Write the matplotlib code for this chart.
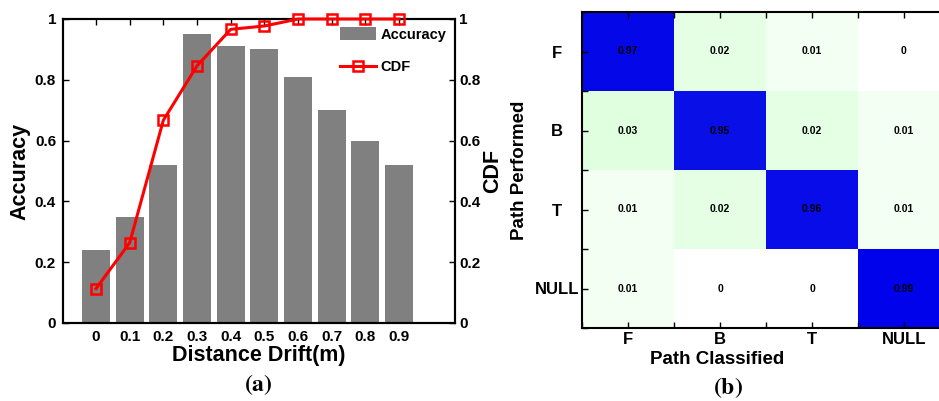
import numpy as np
import matplotlib
matplotlib.use("Agg")
import matplotlib.pyplot as plt
from matplotlib.colors import LinearSegmentedColormap
from matplotlib.patches import Patch
from matplotlib.lines import Line2D

# ---- data ----
drift_labels = ["0", "0.1", "0.2", "0.3", "0.4", "0.5", "0.6", "0.7", "0.8", "0.9"]
accuracy = [0.24, 0.35, 0.52, 0.95, 0.91, 0.90, 0.81, 0.70, 0.60, 0.52]
cdf = [0.113, 0.264, 0.667, 0.846, 0.966, 0.977, 1.0, 1.0, 1.0, 1.0]

path_labels = ["F", "B", "T", "NULL"]
confusion = [
    [0.97, 0.02, 0.01, 0.00],
    [0.03, 0.95, 0.02, 0.01],
    [0.01, 0.02, 0.96, 0.01],
    [0.01, 0.00, 0.00, 0.99],
]

plt.rcParams["font.family"] = ["Liberation Sans", "DejaVu Sans"]
plt.rcParams["font.weight"] = "bold"

W, H = 939, 401
fig = plt.figure(figsize=(W / 100, H / 100), dpi=100)

def rect(l, t, r, b):
    return [l / W, (H - b) / H, (r - l) / W, (b - t) / H]

# ---- (a) bar + CDF ----
ax = fig.add_axes(rect(63, 19, 455, 323))
x = np.arange(len(accuracy))
ax.bar(x, accuracy, width=0.83, color="#808080", edgecolor="none", zorder=2)
ax.set_xlim(-0.98, 10.66)
ax.set_ylim(0, 1)
ax.set_xticks(x)
ax.set_xticklabels(drift_labels, fontsize=11, fontweight="bold")
ax.set_yticks(np.arange(0, 1.01, 0.2))
ax.set_yticklabels(["0", "0.2", "0.4", "0.6", "0.8", "1"], fontsize=11, fontweight="bold")
ax.tick_params(direction="in", length=4, width=1, top=True, pad=5)
ax.set_xlabel("Distance Drift(m)", fontsize=15.5, fontweight="bold", labelpad=1)
ax.set_ylabel("Accuracy", fontsize=15.5, fontweight="bold", labelpad=3)
for s in ax.spines.values():
    s.set_linewidth(1.5)

ax2 = ax.twinx()
ax2.plot(x, cdf, color="red", lw=2.2, marker="s", markersize=7,
         markerfacecolor="none", markeredgecolor="red", markeredgewidth=1.8, zorder=3,
         clip_on=False)
ax2.set_ylim(0, 1)
ax2.set_yticks(np.arange(0, 1.01, 0.2))
ax2.set_yticklabels(["0", "0.2", "0.4", "0.6", "0.8", "1"], fontsize=11, fontweight="bold")
ax2.tick_params(direction="in", length=4, width=1, pad=3)
ax2.set_ylabel("CDF", fontsize=15.5, fontweight="bold", labelpad=1)
for s in ax2.spines.values():
    s.set_linewidth(1.5)

handles = [Patch(facecolor="#808080", edgecolor="none"),
           Line2D([], [], color="red", lw=2.2, marker="s", markersize=7,
                  markerfacecolor="none", markeredgewidth=1.8)]
leg = ax2.legend(handles, ["Accuracy", "CDF"], loc="upper left",
                 bbox_to_anchor=((340 - 63) / 392, (323 - 27) / 304),
                 frameon=False, handlelength=2.5, handleheight=1.0,
                 handletextpad=0.3, labelspacing=1.25, borderpad=0, borderaxespad=0,
                 prop={"weight": "bold", "size": 10.5})

fig.text(258 / W, 1 - 385 / H, r"$(\mathbf{a})$", ha="center", va="center", fontsize=17,
         math_fontfamily="stix")

# ---- (b) confusion matrix ----
cmap = LinearSegmentedColormap.from_list(
    "wgb",
    [(0.0, (1, 1, 1)), (0.01, (0.94, 1, 0.94)), (0.02, (0.90, 1, 0.90)),
     (0.03, (0.867, 1, 0.867)), (0.3, (0.5, 0.9, 0.6)), (1.0, (0, 0, 0.93))])
bx = fig.add_axes(rect(582, 12, 950, 328))
cm = np.array(confusion)
bx.imshow(cm, cmap=cmap, vmin=0, vmax=1, aspect="auto",
          extent=(-0.5, 3.5, 3.5, -0.5), interpolation="nearest")
for i in range(4):
    for j in range(4):
        v = confusion[i][j]
        txt = "0" if v == 0 else f"{v:.2f}"
        bx.text(j, i, txt, ha="center", va="center", fontsize=7.5, fontweight="bold",
                color="black")
bx.set_xlim(-0.5, 3.5)
bx.set_ylim(3.5, -0.5)
bx.set_xticks(range(4))
bx.set_xticklabels(path_labels, fontsize=12, fontweight="bold")
bx.set_yticks(range(4))
bx.set_yticklabels(path_labels, fontsize=12, fontweight="bold", ha="center")
bx.set_xticks(np.arange(-0.5, 4, 1.0), minor=True)
bx.set_yticks(np.arange(-0.5, 4, 1.0), minor=True)
bx.tick_params(which="both", direction="in", length=4, width=1, top=True, right=True)
bx.tick_params(axis="x", which="major", pad=3)
bx.tick_params(axis="y", which="major", pad=18)
bx.set_xlabel("Path Classified", fontsize=13.5, fontweight="bold")
bx.set_ylabel("Path Performed", fontsize=13.5, fontweight="bold")
bx.xaxis.set_label_coords((717 - 582) / 368, -(359 - 328) / 316)
bx.xaxis.label.set_va("center")
bx.yaxis.set_label_coords((520 - 582) / 368, 0.5)
bx.yaxis.label.set_va("center")
for s in bx.spines.values():
    s.set_linewidth(1.5)

fig.text(728 / W, 1 - 388 / H, r"$(\mathbf{b})$", ha="center", va="center", fontsize=17,
         math_fontfamily="stix")

fig.savefig("out.png", dpi=100)
